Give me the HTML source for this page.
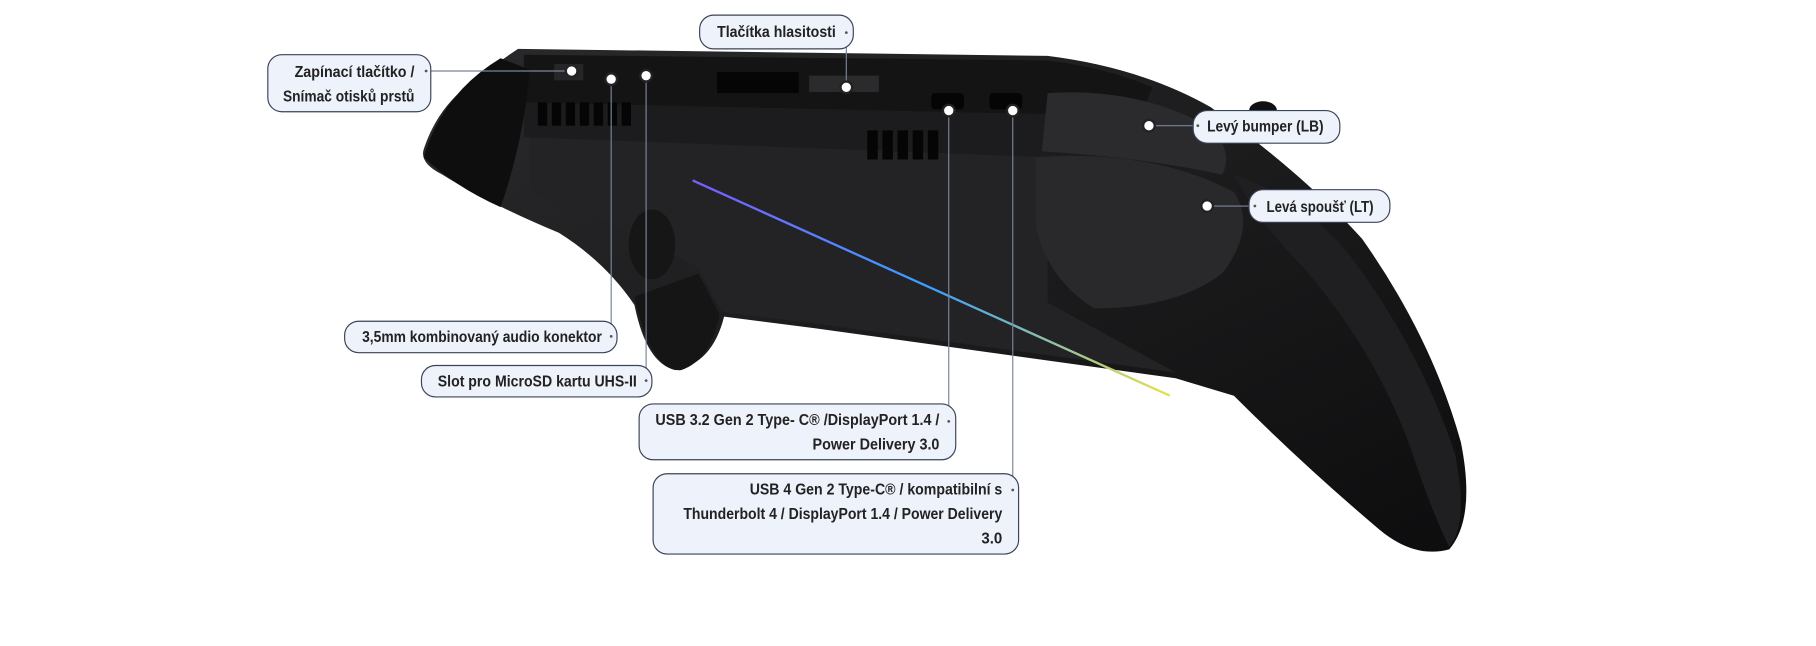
<!DOCTYPE html>
<html><head><meta charset="utf-8"><style>
html,body{margin:0;padding:0;background:#fff;width:1816px;height:646px;overflow:hidden}
svg{display:block}
text{font-family:"Liberation Sans",sans-serif;font-weight:bold;font-size:13.5px;fill:#222}
.box{fill:#eef2fb;stroke:#3a4357;stroke-width:1}
.ln{stroke:#7a8499;stroke-width:1;fill:none}
.mk{fill:#fff;stroke:#222;stroke-width:2}
</style></head><body>
<svg width="1816" height="646" viewBox="0 0 1560 555" xmlns="http://www.w3.org/2000/svg">
<defs>
<linearGradient id="g1" x1="0" y1="0" x2="1" y2="1"><stop offset="0" stop-color="#2a2a2c"/><stop offset="1" stop-color="#0d0d0e"/></linearGradient>
<linearGradient id="rgb" x1="0" y1="0" x2="1" y2="1"><stop offset="0" stop-color="#7a5cff"/><stop offset="0.5" stop-color="#3aa0ff"/><stop offset="1" stop-color="#e8e04a"/></linearGradient>
</defs>
<path d="M445,42 L900,48 Q980,58 1040,92 Q1120,150 1170,205 Q1230,290 1255,380 Q1268,445 1245,472 Q1215,480 1185,455 Q1120,400 1060,340 L1010,325 L700,282 L622,272 Q612,312 580,318 Q555,312 545,262 Q520,225 480,200 Q420,175 380,150 Q360,140 364,128 Q375,95 400,75 Q425,55 445,42 Z" fill="url(#g1)"/>
<path d="M450,47 L900,52 Q950,58 990,75 L980,100 L450,88 Z" fill="#141415"/>
<path d="M450,88 L980,100 L960,140 L450,118 Z" fill="#1c1c1e"/>
<path d="M455,118 L900,135 L900,260 L1010,320 L700,278 L620,268 L600,230 L520,190 L455,165 Z" fill="#232325"/>
<path d="M430,50 Q380,80 364,135 Q390,160 430,178 Q450,120 455,60 Z" fill="#0e0e0f"/>
<ellipse cx="560" cy="210" rx="20" ry="30" fill="#161617"/>
<path d="M545,255 Q560,320 585,318 Q610,310 618,270 L600,235 Z" fill="#151516"/>
<g fill="#050505">
<rect x="462" y="88" width="8" height="20"/><rect x="474" y="88" width="8" height="20"/><rect x="486" y="88" width="8" height="20"/><rect x="498" y="88" width="8" height="20"/><rect x="510" y="88" width="8" height="20"/><rect x="522" y="88" width="8" height="20"/><rect x="534" y="88" width="8" height="20"/>
<rect x="745" y="112" width="9" height="25"/><rect x="758" y="112" width="9" height="25"/><rect x="771" y="112" width="9" height="25"/><rect x="784" y="112" width="9" height="25"/><rect x="797" y="112" width="9" height="25"/>
<rect x="616" y="62" width="70" height="18"/>
<rect x="695" y="65" width="60" height="14" fill="#2b2b2d"/>
<rect x="800" y="80" width="28" height="14" rx="3"/><rect x="850" y="80" width="28" height="14" rx="3"/>
<rect x="476" y="55" width="25" height="14" fill="#262628"/>
</g>
<path d="M595,155 L1005,340" stroke="url(#rgb)" stroke-width="2"/>
<path d="M900,80 Q980,75 1040,110 Q1060,130 1050,150 Q980,135 895,130 Z" fill="#2b2b2d"/>
<path d="M890,135 Q990,128 1060,165 Q1080,195 1050,235 Q1010,265 940,265 Q900,240 890,195 Z" fill="#29292b"/>
<path d="M1060,150 Q1120,170 1160,220 Q1220,300 1250,390 Q1262,450 1245,470 Q1230,440 1210,380 Q1180,300 1120,230 Q1080,190 1060,150 Z" fill="#1f1f21"/>
<ellipse cx="1085" cy="95" rx="12" ry="8" fill="#111"/>
<g class="ln">
<line x1="366" y1="61" x2="491" y2="61"/>
<line x1="727" y1="28" x2="727" y2="75"/>
<line x1="525" y1="68" x2="525" y2="289"/>
<line x1="555" y1="65" x2="555" y2="327"/>
<line x1="815" y1="95" x2="815" y2="362"/>
<line x1="870" y1="95" x2="870" y2="421"/>
<line x1="987" y1="108" x2="1029" y2="108"/>
<line x1="1037" y1="177" x2="1078" y2="177"/>
</g>
<rect class="box" x="230" y="47" width="140" height="49" rx="12"/>
<rect class="box" x="601" y="13" width="132" height="29" rx="12"/>
<rect class="box" x="1025" y="95" width="126" height="28" rx="12"/>
<rect class="box" x="1073" y="163" width="121" height="28" rx="12"/>
<rect class="box" x="296" y="276" width="234" height="27" rx="12"/>
<rect class="box" x="362" y="314" width="198" height="27" rx="12"/>
<rect class="box" x="549" y="347" width="272" height="48" rx="12"/>
<rect class="box" x="561" y="407" width="314" height="69" rx="12"/>
<g fill="#555">
<circle cx="366" cy="61" r="1.2"/><circle cx="727" cy="28" r="1.2"/><circle cx="1029" cy="108" r="1.2"/><circle cx="1078" cy="177" r="1.2"/>
<circle cx="525" cy="289" r="1.2"/><circle cx="555" cy="327" r="1.2"/><circle cx="815" cy="362" r="1.2"/><circle cx="870" cy="421" r="1.2"/>
</g>
<g text-anchor="end" lengthAdjust="spacingAndGlyphs">
<text x="356" y="66" textLength="103" lengthAdjust="spacingAndGlyphs">Zapínací tlačítko /</text>
<text x="356" y="87" textLength="113" lengthAdjust="spacingAndGlyphs">Snímač otisků prstů</text>
<text x="718" y="32" textLength="102" lengthAdjust="spacingAndGlyphs">Tlačítka hlasitosti</text>
<text x="1137" y="113" textLength="100" lengthAdjust="spacingAndGlyphs">Levý bumper (LB)</text>
<text x="1180" y="182" textLength="92" lengthAdjust="spacingAndGlyphs">Levá spoušť (LT)</text>
<text x="517" y="294" textLength="206" lengthAdjust="spacingAndGlyphs">3,5mm kombinovaný audio konektor</text>
<text x="547" y="332" textLength="171" lengthAdjust="spacingAndGlyphs">Slot pro MicroSD kartu UHS-II</text>
<text x="807" y="365" textLength="244" lengthAdjust="spacingAndGlyphs">USB 3.2 Gen 2 Type- C® /DisplayPort 1.4 /</text>
<text x="807" y="386" textLength="109" lengthAdjust="spacingAndGlyphs">Power Delivery 3.0</text>
<text x="861" y="425" textLength="217" lengthAdjust="spacingAndGlyphs">USB 4 Gen 2 Type-C® / kompatibilní s</text>
<text x="861" y="446" textLength="274" lengthAdjust="spacingAndGlyphs">Thunderbolt 4 / DisplayPort 1.4 / Power Delivery</text>
<text x="861" y="467" textLength="18" lengthAdjust="spacingAndGlyphs">3.0</text>
</g>
<g class="mk">
<circle cx="491" cy="61" r="5"/><circle cx="525" cy="68" r="5"/><circle cx="555" cy="65" r="5"/>
<circle cx="727" cy="75" r="5"/><circle cx="815" cy="95" r="5"/><circle cx="870" cy="95" r="5"/>
<circle cx="987" cy="108" r="5"/><circle cx="1037" cy="177" r="5"/>
</g>
</svg>
</body></html>
